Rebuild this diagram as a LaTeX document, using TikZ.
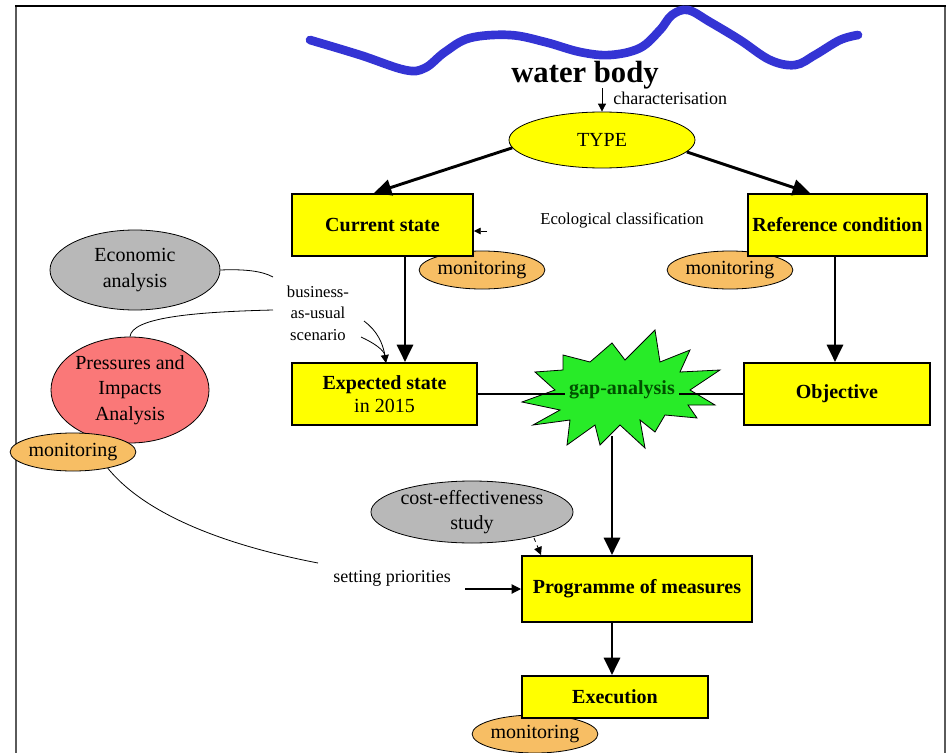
\documentclass[tikz,border=0pt]{standalone}
\usepackage{fontspec}
\setmainfont{Liberation Serif}
\usetikzlibrary{arrows.meta,shapes.geometric}
\definecolor{boxyellow}{RGB}{255,255,0}
\definecolor{monorange}{RGB}{247,190,100}
\definecolor{ellgray}{RGB}{184,184,184}
\definecolor{pressred}{RGB}{250,120,120}
\definecolor{stargreen}{RGB}{40,235,40}
\definecolor{gaptext}{RGB}{0,80,0}
\definecolor{riverblue}{RGB}{52,52,212}
\definecolor{framegray}{RGB}{90,90,90}
\begin{document}
\begin{tikzpicture}[x=0.75pt,y=-0.75pt]
\tikzset{
  boxst/.style={draw=black, line width=1.5pt, fill=boxyellow, align=center, inner sep=0pt,
    font=\fontsize{15}{18}\selectfont\bfseries},
  mon/.style={ellipse, draw=black, line width=0.6pt, fill=monorange, inner sep=0pt,
    minimum width=84pt, minimum height=28.5pt, font=\fontsize{15}{18}\selectfont},
  ell/.style={ellipse, draw=black, line width=0.6pt, inner sep=0pt, align=center,
    font=\fontsize{15}{19}\selectfont},
  bigarrow/.style={line width=2.2pt, -{Triangle[length=13pt,width=12pt]}},
  thinline/.style={line width=0.6pt},
  smallarrow/.style={line width=0.6pt, -{Triangle[length=6pt,width=6pt]}},
  lbl/.style={inner sep=0pt, align=center},
}
\useasboundingbox (0,0) rectangle (947,753);
% frame
\draw[line width=2pt, framegray] (16,6) -- (16,753);
\draw[line width=2pt, framegray] (945,6) -- (945,753);
\draw[line width=1.6pt, black] (15,6) -- (946,6);

% river
\draw[riverblue, line width=6.5pt, line cap=round, line join=round]
  plot[smooth, tension=0.6] coordinates {(310,40) (360,55) (405,70) (425,68) (445,52) (470,38) (510,35) (545,42) (580,52) (610,55) (640,48) (660,30) (672,15) (688,10) (710,22) (740,40) (770,60) (795,65) (815,55) (840,40) (858,35)};

% title
\node[lbl, font=\fontsize{23}{26}\selectfont\bfseries] (wb) at (585,75) {water body};
\node[ell, fill=boxyellow, minimum width=139.5pt, minimum height=42pt] (type) at (602,140) {TYPE};
\coordinate (wbbot) at (602,88);
\draw[smallarrow] (wbbot) -- (type.north);
\node[lbl, anchor=west, font=\fontsize{13.5}{15}\selectfont] (charlbl) at (613,98) {characterisation};

% monitoring ellipses (behind boxes)
\node[mon] (mon1) at (482,270) {monitoring};
\node[mon] (mon2) at (730,270) {monitoring};
\node[mon] (mon4) at (535,734) {monitoring};

% boxes
\node[boxst, minimum width=135.75pt, minimum height=46.5pt] (cur) at (382.5,225) {Current state};
\node[boxst, minimum width=134.25pt, minimum height=46.5pt] (ref) at (837.5,225) {Reference condition};
\node[boxst, minimum width=138.75pt, minimum height=46.5pt] (exp) at (384.5,394) {Expected state\\[-1pt]\mdseries in 2015};
\node[boxst, minimum width=139.5pt, minimum height=46.5pt] (obj) at (837,394) {Objective};
\node[boxst, minimum width=172.5pt, minimum height=49.5pt] (prog) at (637,589) {Programme of measures};
\node[boxst, minimum width=139.5pt, minimum height=31.5pt] (exe) at (615,697) {Execution};

% TYPE arrows
\draw[bigarrow] (type.185) -- (cur.north west -| 374,0);
\draw[bigarrow] (type.-8) -- (ref.north west -| 810,0);

% ecological classification
\node[lbl, font=\fontsize{12.5}{15}\selectfont] (eco) at (622,220) {Ecological classification};
\coordinate (ecohead) at (487,231);
\draw[line width=0.4pt, -{Triangle[length=5pt,width=5pt]}] (ecohead) -- (cur.east |- ecohead);

% vertical arrows
\draw[bigarrow] (cur.south -| 405,0) -- (exp.north -| 405,0);
\draw[bigarrow] (ref.south -| 835,0) -- (obj.north -| 835,0);

% economic / pressures
\node[ell, fill=ellgray, minimum width=127.5pt, minimum height=60pt] (econ) at (135,270) {Economic\\analysis};
\node[ell, fill=pressred, minimum width=118.5pt, minimum height=79.5pt] (press) at (130,390) {Pressures and\\Impacts\\Analysis};
\node[mon] (mon3) at (73,452) {monitoring};

\node[lbl, font=\fontsize{12.5}{16}\selectfont] (bau) at (318,313) {business-\\as-usual\\scenario};
\coordinate (bau1) at (273,277);
\coordinate (bau2) at (273,310);
\draw[thinline] (econ.east) .. controls (245,269) and (262,271) .. (bau1);
\draw[thinline] (bau2) .. controls (190,312) and (132,318) .. (press.north);
\coordinate (c1) at (364,321);
\coordinate (c2) at (361,337);
\coordinate (ex1) at (386,363);
\draw[thinline] (c1) .. controls (376,330) and (384,342) .. (ex1);
\draw[smallarrow] (c2) .. controls (374,343) and (384,350) .. (ex1);

% gap analysis star
\filldraw[fill=stargreen, draw=black, line width=0.6pt]
 (655,330) -- (660,362) -- (690,350) -- (680,372) -- (720,370) -- (690,390) -- (715,405) -- (688,405) -- (697,418) -- (665,415) -- (655,432) -- (640,420) -- (645,448) -- (620,425) -- (600,445) -- (595,425) -- (567,445) -- (570,420) -- (533,425) -- (560,410) -- (522,402) -- (555,390) -- (535,372) -- (563,370) -- (563,355) -- (590,362) -- (612,343) -- (625,360) -- cycle;
\node[lbl, text=gaptext, font=\fontsize{15}{17}\selectfont\bfseries, inner xsep=3pt] (gap) at (622,390) {gap-analysis};
\draw[line width=1.5pt] (exp.east) -- (gap.west |- exp.east);
\draw[line width=1.5pt] (gap.east |- obj.west) -- (obj.west);
\coordinate (gapbot) at (612,436);
\draw[bigarrow] (gapbot) -- (prog.north -| gapbot);

% cost-effectiveness
\node[ell, fill=ellgray, minimum width=150pt, minimum height=46.5pt] (cost) at (472,512) {cost-effectiveness\\study};
\coordinate (costpt) at (534,538);
\draw[line width=0.6pt, dashed, -{Triangle[length=6pt,width=6pt]}] (costpt) -- (prog.north west -| 541,0);

% setting priorities
\node[lbl, font=\fontsize{13.5}{15}\selectfont] (sp) at (392,578) {setting priorities};
\coordinate (sp1) at (318,563);
\coordinate (sp2) at (465,589);
\draw[thinline] (mon3.-25) .. controls (150,520) and (240,548) .. (sp1);
\draw[line width=0.8pt, -{Triangle[length=7pt,width=7pt]}] (sp2) -- (prog.west);

% programme to execution
\draw[bigarrow] (prog.south -| 612,0) -- (exe.north -| 612,0);
\end{tikzpicture}
\end{document}
